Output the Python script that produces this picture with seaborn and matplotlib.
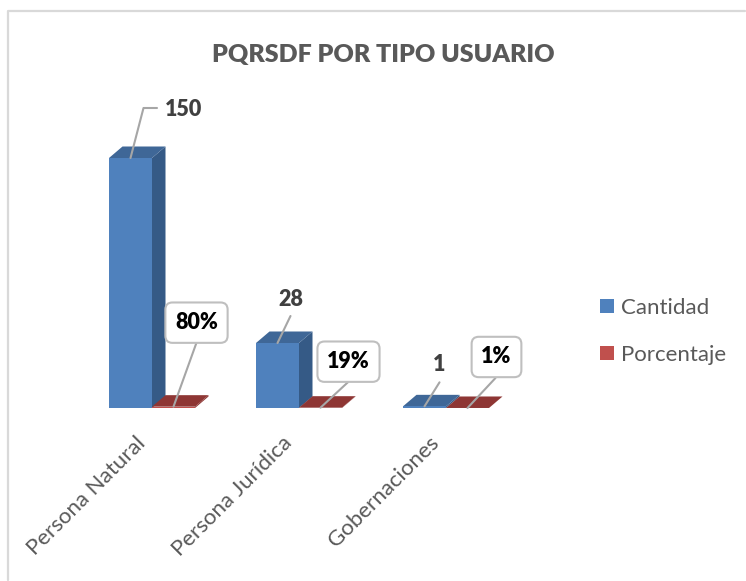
import matplotlib
matplotlib.use('Agg')
import matplotlib.pyplot as plt
from matplotlib.lines import Line2D
from matplotlib.patches import Polygon
from matplotlib.transforms import ScaledTranslation
import pandas as pd
import seaborn as sns

# Values
categorias = ['Persona Natural', 'Persona Jurídica', 'Gobernaciones']
cantidad = [150, 39, 1]  # bar heights as drawn
etiquetas_cantidad = ['150', '28', '1']  # labels as printed
porcentaje = [0.80, 0.19, 0.01]

df = pd.DataFrame({'Categoria': categorias * 2,
                   'Serie': ['Cantidad'] * 3 + ['Porcentaje'] * 3,
                   'Valor': cantidad + porcentaje})

W, H = 746, 581
sns.set_theme(style='white')
plt.rcParams['font.family'] = ['Lato', 'DejaVu Sans']

fig = plt.figure(figsize=(W / 100, H / 100), dpi=100)
ax_left, ax_right, ax_top, ax_bottom = 60, 560, 108, 408
ax = fig.add_axes([ax_left / W, 1 - ax_bottom / H, (ax_right - ax_left) / W, (ax_bottom - ax_top) / H])
ax.patch.set_alpha(0)

sns.barplot(data=df, x='Categoria', y='Valor', hue='Serie', ax=ax, width=0.585, gap=0, saturation=1,
            linewidth=0, palette={'Cantidad': '#4F81BD', 'Porcentaje': '#C0504D'})

px_x = 1 / 147  # category units per pixel
px_y = 0.6  # value units per pixel
ax.set_xlim((ax_left - 152) * px_x, (ax_right - 152) * px_x)
ax.set_ylim(0, (ax_bottom - ax_top) * px_y)

# Fake the 3D look: a top and a side face for every bar
dx, dy = 13.5 * px_x, 11.5 * px_y
caras = {0: ('#3F6797', '#355A86'), 1: ('#8E3634', '#8E3634')}
for i, cont in enumerate(ax.containers):
    top_c, side_c = caras[i]
    for bar in cont:
        x0, w, h = bar.get_x(), bar.get_width(), bar.get_height()
        ax.add_patch(Polygon([(x0 + w, 0), (x0 + w, h), (x0 + w + dx, h + dy), (x0 + w + dx, dy)],
                             color=side_c, lw=0, zorder=2 + i))
        ax.add_patch(Polygon([(x0, h), (x0 + w, h), (x0 + w + dx, h + dy), (x0 + dx, h + dy)],
                             color=top_c, lw=0, zorder=2 + i))
        bar.set_zorder(2.5 + i)


def leader(xy, end):
    # grey line from a bar top to a pixel offset
    ax.annotate('', xy=xy, xytext=end, xycoords='data', textcoords='offset pixels',
                arrowprops=dict(arrowstyle='-', color='#A6A6A6', lw=1.5, shrinkA=0, shrinkB=0),
                zorder=6, annotation_clip=False)


# Label offsets in pixels from the centre of the bar top
off_cant = [(34, 48), (13, 43), (15, 42)]
off_pct = [(23, 84), (28, 46), (29, 51)]
linea_cant = [(13, 50), (13, 27), (15, 24)]
linea_pct = [(23, 64), (28, 26), (28, 30)]

blue, red = ax.containers[0], ax.containers[1]
for i in range(3):
    bar = blue[i]
    xy = (bar.get_x() + bar.get_width() / 2, bar.get_height())
    leader(xy, linea_cant[i])
    ax.annotate(etiquetas_cantidad[i], xy=xy, xytext=off_cant[i], textcoords='offset pixels',
                ha='left' if i == 0 else 'center', va='center', fontsize=15.5, fontweight='heavy',
                color='#404040', zorder=7)

    bar = red[i]
    xy = (bar.get_x() + bar.get_width() / 2, bar.get_height())
    leader(xy, linea_pct[i])
    ax.annotate(f'{porcentaje[i]:.0%}', xy=xy, xytext=off_pct[i], textcoords='offset pixels',
                ha='center', va='center', fontsize=15.5, fontweight='heavy', color='black', zorder=7,
                bbox=dict(boxstyle='round,pad=0.45,rounding_size=0.33', fc='white', ec='#BFBFBF', lw=1.5))

# horizontal tail of the 150 leader
bar = blue[0]
xy0 = (bar.get_x() + bar.get_width() / 2, bar.get_height())
ax.plot([xy0[0] + 13 * px_x, xy0[0] + 26 * px_x], [xy0[1] + 50 * px_y] * 2, color='#A6A6A6', lw=1.5,
        clip_on=False, zorder=6)

ax.set_xlabel('')
ax.set_ylabel('')
ax.set_yticks([])
ax.set_xticks(range(3))
ax.set_xticklabels(categorias, rotation=45, ha='right', rotation_mode='anchor', fontsize=16, color='#595959')
ax.tick_params(axis='x', length=0, pad=18)
shift = ScaledTranslation(-17 / 100, 0, fig.dpi_scale_trans)
for lab in ax.get_xticklabels():
    lab.set_transform(lab.get_transform() + shift)
sns.despine(ax=ax, left=True, bottom=True)

ax.legend(title=None, loc='upper left', bbox_to_anchor=(600 / W, 1 - 298 / H), bbox_transform=fig.transFigure,
          frameon=False, fontsize=16, handlelength=0.63, handleheight=0.63, handletextpad=0.3, labelspacing=1.2,
          labelcolor='#595959', borderpad=0, borderaxespad=0)

fig.text(383 / W, 1 - 55 / H, 'PQRSDF POR TIPO USUARIO', ha='center', va='center', fontsize=18,
         fontweight='heavy', color='#595959')

# Chart frame: only left and top edges are visible
fig.add_artist(Line2D([8 / W, 8 / W, 745 / W], [1 - 580 / H, 1 - 10.5 / H, 1 - 10.5 / H], color='#D9D9D9', lw=1.6))

fig.savefig('out.png', dpi=100)
